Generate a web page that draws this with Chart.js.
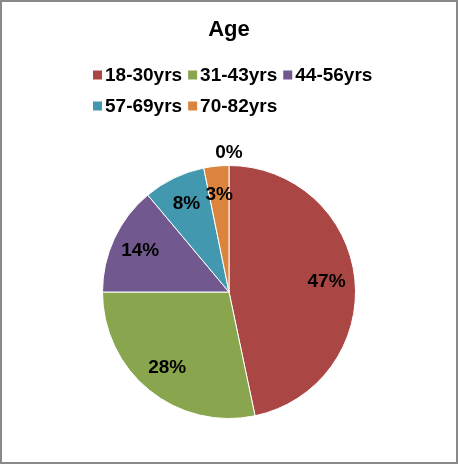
<!DOCTYPE html>
<html>
<head>
<meta charset="utf-8">
<script src="https://cdn.jsdelivr.net/npm/chart.js@4/dist/chart.umd.min.js"></script>
<style>
  html, body { margin: 0; padding: 0; background: #fff; }
  #wrap { width: 458px; height: 464px; position: relative; }
</style>
</head>
<body>
<div id="wrap"><canvas id="c" width="458" height="464"></canvas></div>
<script>
const chartTitle = "Age";
const categories = ["18-30yrs", "31-43yrs", "44-56yrs", "57-69yrs", "70-82yrs", ""];
const shares = [46.7, 28.3, 13.9, 7.9, 3.2, 0];
const colors = ["#AA4643", "#89A54E", "#71588F", "#4198AF", "#DB843D", "#4F81BD"];

const FONT = "'Liberation Sans', Arial, sans-serif";

const frame = {
  id: 'frame',
  beforeDraw(chart) {
    const ctx = chart.ctx;
    ctx.save();
    ctx.fillStyle = '#ffffff';
    ctx.fillRect(0, 0, chart.width, chart.height);
    ctx.strokeStyle = '#898989';
    ctx.lineWidth = 2;
    ctx.strokeRect(1, 1, chart.width - 2, chart.height - 2);
    ctx.restore();
  }
};

const pctLabels = {
  id: 'pctLabels',
  afterDatasetsDraw(chart) {
    const ctx = chart.ctx;
    const meta = chart.getDatasetMeta(0);
    const data = chart.data.datasets[0].data;
    const total = data.reduce((a, b) => a + b, 0);
    ctx.save();
    ctx.font = "bold 19px " + FONT;
    ctx.fillStyle = '#000';
    ctx.textAlign = 'center';
    ctx.textBaseline = 'middle';
    meta.data.forEach((arc, i) => {
      const p = arc.getProps(['x', 'y', 'startAngle', 'endAngle', 'outerRadius'], true);
      const mid = (p.startAngle + p.endAngle) / 2;
      const r = data[i] === 0 ? p.outerRadius + 13 : p.outerRadius * 0.775;
      const x = p.x + Math.cos(mid) * r;
      const y = p.y + Math.sin(mid) * r;
      ctx.fillText(Math.round(data[i] / total * 100) + '%', x, y);
    });
    ctx.restore();
  }
};

const flowLegend = {
  id: 'flowLegend',
  afterDraw(chart) {
    const ctx = chart.ctx;
    const labels = chart.data.labels;
    const bg = chart.data.datasets[0].backgroundColor;
    ctx.save();
    ctx.font = "bold 19px " + FONT;
    ctx.textBaseline = 'middle';
    ctx.textAlign = 'left';
    const perRow = 3;
    const rows = [75, 106];
    const startX = 93;
    let idx = 0, lx = startX;
    labels.forEach((lab, i) => {
      if (!lab) return;
      const row = Math.floor(idx / perRow);
      if (idx % perRow === 0) lx = startX;
      const y = rows[row];
      ctx.fillStyle = bg[i];
      ctx.fillRect(lx, y - 4.5, 9, 9);
      ctx.fillStyle = '#000';
      ctx.fillText(lab, lx + 12, y + 1);
      lx += 12 + ctx.measureText(lab).width + 6;
      idx++;
    });
    ctx.restore();
  }
};

new Chart(document.getElementById('c'), {
  type: 'pie',
  data: {
    labels: categories,
    datasets: [{
      data: shares,
      backgroundColor: colors,
      borderColor: '#ffffff',
      borderWidth: 1
    }]
  },
  options: {
    responsive: false,
    animation: false,
    layout: { padding: { top: 0, left: 102, right: 102, bottom: 45 } },
    plugins: {
      legend: { display: false },
      tooltip: { enabled: false },
      title: {
        display: true,
        text: chartTitle,
        color: '#000',
        font: { family: FONT, size: 22, weight: 'bold', lineHeight: 1.2 },
        padding: { top: 17, bottom: 121.6 }
      }
    }
  },
  plugins: [frame, pctLabels, flowLegend]
});
</script>
</body>
</html>
